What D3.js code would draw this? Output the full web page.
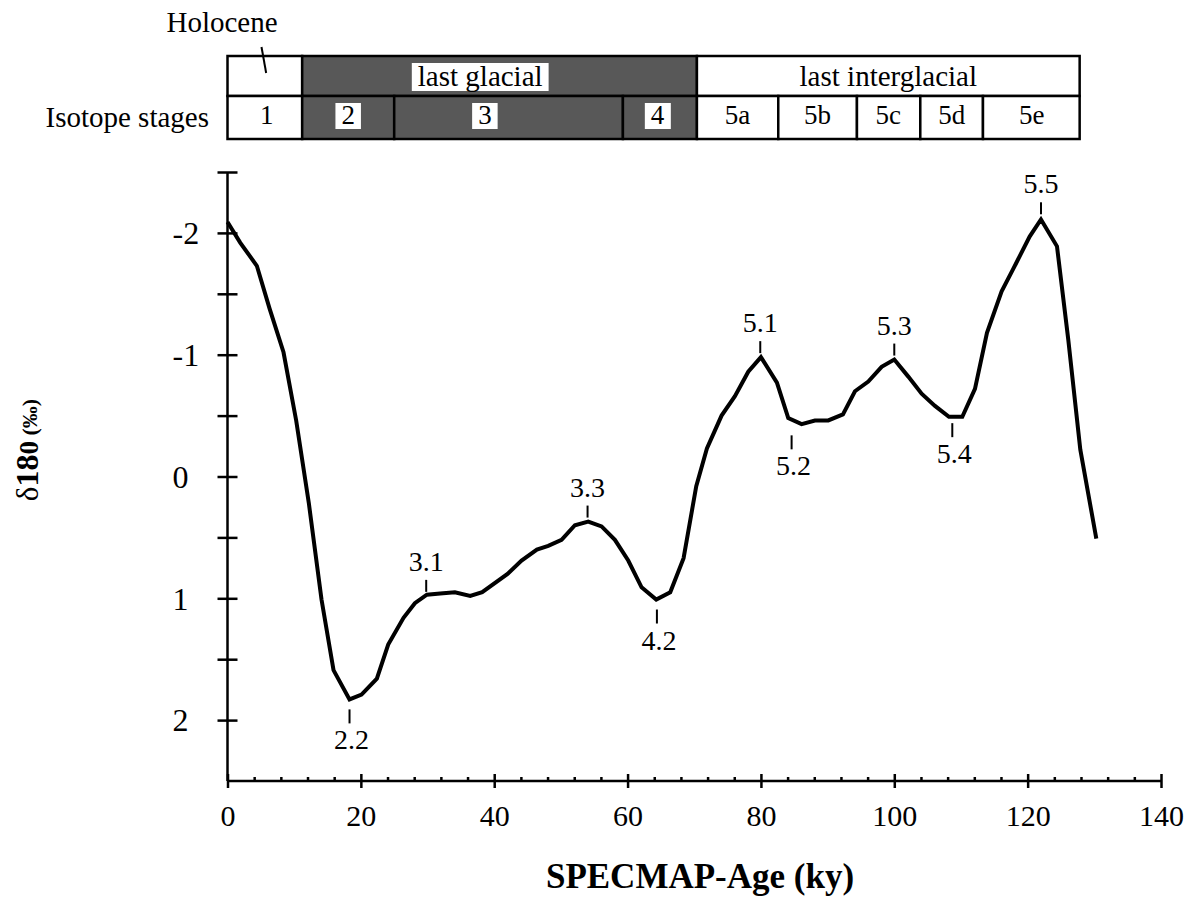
<!DOCTYPE html>
<html><head><meta charset="utf-8">
<script src="https://cdn.jsdelivr.net/npm/d3@7"></script>
<style>
body{margin:0;background:#fff;}
text{font-family:"Liberation Serif","Times New Roman",serif;fill:#000;}
</style></head><body>
<svg id="chart" width="1185" height="899"></svg>
<script>
// ---- data ----
const ages  = [0.0,1.9,4.4,6.3,8.4,10.3,12.2,14.1,15.9,18.3,20.1,22.4,24.1,26.4,28.1,29.9,31.9,34.1,36.4,38.2,42.0,44.1,46.4,48.1,50.1,52.1,54.1,56.1,58.1,60.1,62.1,64.3,66.4,68.4,70.3,71.9,74.1,76.1,78.1,80.0,82.4,84.1,86.1,88.1,90.1,92.3,94.1,96.1,98.1,100.0,102.1,104.1,106.1,108.2,110.2,112.1,113.9,116.1,117.8,120.3,122.0,124.4,126.1,127.9,130.3];
const delta = [-2.09,-1.92,-1.73,-1.38,-1.02,-0.46,0.22,1.01,1.59,1.83,1.79,1.66,1.38,1.16,1.04,0.97,0.96,0.95,0.98,0.95,0.80,0.69,0.60,0.57,0.52,0.40,0.37,0.41,0.52,0.69,0.91,1.01,0.95,0.67,0.08,-0.23,-0.50,-0.66,-0.86,-0.98,-0.77,-0.48,-0.43,-0.46,-0.46,-0.51,-0.70,-0.78,-0.90,-0.96,-0.82,-0.68,-0.58,-0.49,-0.49,-0.72,-1.18,-1.52,-1.70,-1.97,-2.11,-1.89,-1.12,-0.22,0.51];

const xTickValues = [0,20,40,60,80,100,120,140];
const xMinorValues = d3.range(0,141,4);
const yTickValues = [-2.5,-2,-1.5,-1,-0.5,0,0.5,1,1.5,2];
const yLabelValues = [-2,-1,0,1,2];

const stageNames  = ["1","2","3","4","5a","5b","5c","5d","5e"];
const stageBounds = [0,11.2,25,59.3,70.4,82.6,94.4,103.9,113.3,127.8];
const stageLabelAges = [5.9,18.1,38.6,64.5,76.5,88.5,99.1,108.6,120.6];
const stageGlacial = [false,true,true,true,false,false,false,false,false];

const periodNames  = ["", "last glacial", "last interglacial"];
const periodBounds = [0,11.2,70.4,127.8];
const periodLabelAges = [5.6,37.9,99.1];
const periodGlacial = [false,true,false];

const peakLabels = ["2.2","3.1","3.3","4.2","5.1","5.2","5.3","5.4","5.5"];
const peakAges   = [18.3,29.8,54.0,64.4,79.9,84.6,100.0,108.7,122.0];
const peakDelta  = [1.83,0.98,0.37,1.01,-0.98,-0.42,-0.96,-0.52,-2.12];
const peakAbove  = [false,true,true,false,true,false,true,false,true];

// ---- layout ----
const svg = d3.select("#chart");
const x = d3.scaleLinear().domain([0,140]).range([227.5,1161]);
const y = d3.scaleLinear().domain([-2.5,2.5]).range([172,781]);
const GRAY = "#585858";
const FONT = '"Liberation Serif","Times New Roman",serif';

// x axis (minor ticks)
const gx = svg.append("g").attr("transform",`translate(0,${y(2.5)})`);
gx.call(d3.axisBottom(x).tickValues(xMinorValues.filter(v=>v%20!==0)).tickSize(4).tickSizeOuter(0).tickFormat(""))
  .call(g=>g.select(".domain").remove())
  .call(g=>g.selectAll(".tick line").attr("y1",0).attr("y2",-4).attr("stroke","#000").attr("stroke-width",2.5));
// x axis (major ticks + labels)
const gx2 = svg.append("g").attr("transform",`translate(0,${y(2.5)})`);
gx2.call(d3.axisBottom(x).tickValues(xTickValues).tickSize(7).tickSizeOuter(0))
  .call(g=>g.select(".domain").attr("stroke","#000").attr("stroke-width",2.5).attr("d",`M${x(0)},0H${x(140)}`))
  .call(g=>g.selectAll(".tick line").attr("y1",-7).attr("y2",7).attr("stroke","#000").attr("stroke-width",2.5))
  .call(g=>g.selectAll(".tick text").attr("font-family",FONT).attr("font-size",30).attr("fill","#000").attr("dy",0).attr("y",45));

// y axis
const gy = svg.append("g").attr("transform",`translate(${x(0)},0)`);
gy.call(d3.axisLeft(y).tickValues(yTickValues).tickSize(10).tickSizeOuter(0)
      .tickFormat(v=>yLabelValues.includes(v)?d3.format("d")(v).replace("−","-"):""))
  .call(g=>g.select(".domain").attr("stroke","#000").attr("stroke-width",2.5).attr("d",`M0,${y(-2.5)}V${y(2.5)}`))
  .call(g=>g.selectAll(".tick line").attr("x1",10).attr("x2",-10).attr("stroke","#000").attr("stroke-width",2.5))
  .call(g=>g.selectAll(".tick text").attr("font-family",FONT).attr("font-size",32).attr("fill","#000")
      .attr("text-anchor","start").attr("x",-55).attr("dy","0.34em"));

// curve
const pts = ages.map((a,i)=>[a,delta[i]]);
svg.append("path").datum(pts)
  .attr("d",d3.line().x(d=>x(d[0])).y(d=>y(d[1])))
  .attr("fill","none").attr("stroke","#000").attr("stroke-width",4).attr("stroke-linejoin","miter");

// peak markers
peakLabels.forEach((lab,i)=>{
  const px = x(peakAges[i]), py = y(peakDelta[i]);
  if(peakAbove[i]){
    svg.append("line").attr("x1",px).attr("x2",px).attr("y1",py-4).attr("y2",py-16).attr("stroke","#000").attr("stroke-width",2);
    svg.append("text").attr("x",px).attr("y",py-25).attr("text-anchor","middle").attr("font-size",28).text(lab);
  } else {
    svg.append("line").attr("x1",px).attr("x2",px).attr("y1",py+10).attr("y2",py+24).attr("stroke","#000").attr("stroke-width",2);
    svg.append("text").attr("x",px+2).attr("y",py+50).attr("text-anchor","middle").attr("font-size",28).text(lab);
  }
});

// top band
const rowTop = 56, rowMid = 96, rowBot = 139;
const band = svg.append("g");
periodNames.forEach((n,i)=>{
  band.append("rect").attr("x",x(periodBounds[i])).attr("y",rowTop)
    .attr("width",x(periodBounds[i+1])-x(periodBounds[i])).attr("height",rowMid-rowTop)
    .attr("fill",periodGlacial[i]?GRAY:"#fff").attr("stroke","#000").attr("stroke-width",2.5);
});
stageNames.forEach((n,i)=>{
  band.append("rect").attr("x",x(stageBounds[i])).attr("y",rowMid)
    .attr("width",x(stageBounds[i+1])-x(stageBounds[i])).attr("height",rowBot-rowMid)
    .attr("fill",stageGlacial[i]?GRAY:"#fff").attr("stroke","#000").attr("stroke-width",2.5);
});
function labelWithBg(g, cx, baseline, txt, size, bg){
  const t = g.append("text").attr("x",cx).attr("y",baseline).attr("text-anchor","middle").attr("font-size",size).text(txt);
  if(bg){
    const b = t.node().getBBox();
    g.insert("rect", () => t.node()).attr("x",b.x-6).attr("y",b.y+3).attr("width",b.width+12).attr("height",b.height-4).attr("fill","#fff");
  }
}
periodNames.forEach((n,i)=>{ if(n) labelWithBg(band, x(periodLabelAges[i]), 86, n, 29, periodGlacial[i]); });
stageNames.forEach((n,i)=>{ labelWithBg(band, x(stageLabelAges[i]), 124, n, 27, stageGlacial[i]); });

svg.append("text").attr("x",209).attr("y",127).attr("text-anchor","end").attr("font-size",29).text("Isotope stages");
svg.append("text").attr("x",222).attr("y",32).attr("text-anchor","middle").attr("font-size",29).text("Holocene");
svg.append("line").attr("x1",x(5.1)).attr("y1",47).attr("x2",x(5.8)).attr("y2",73).attr("stroke","#000").attr("stroke-width",2);

// axis titles
svg.append("text").attr("x",700).attr("y",888).attr("text-anchor","middle").attr("font-size",35).attr("font-weight","bold").text("SPECMAP-Age (ky)");
const yl = svg.append("text").attr("transform","translate(38,450) rotate(-90)").attr("text-anchor","middle");
yl.append("tspan").attr("font-size",31).text("δ");
yl.append("tspan").attr("font-size",32).attr("font-weight","bold").text("18");
yl.append("tspan").attr("font-size",27).attr("font-weight","bold").text("0");
yl.append("tspan").attr("font-size",22).attr("font-weight","bold").attr("dy",-1).text(" (‰)");
</script>
</body></html>
